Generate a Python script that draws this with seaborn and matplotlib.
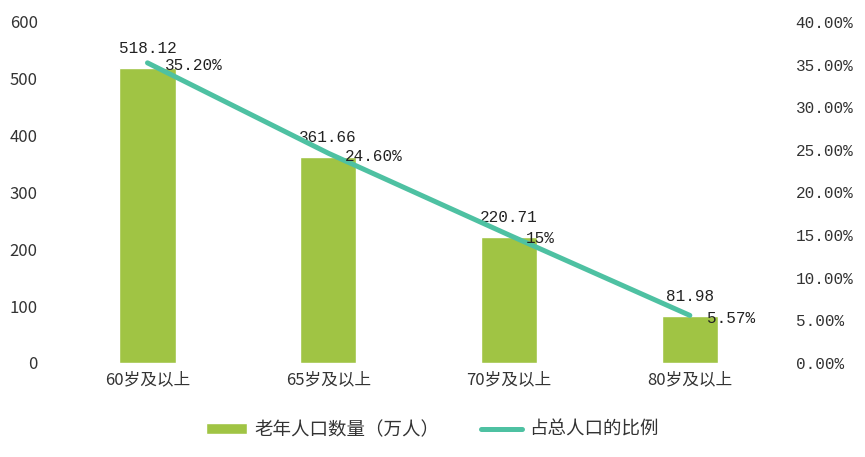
import matplotlib
matplotlib.use("Agg")
import matplotlib.pyplot as plt
import seaborn as sns
import numpy as np
import pandas as pd
from matplotlib.lines import Line2D
from matplotlib.patches import Patch

# data
categories = ["60岁及以上", "65岁及以上", "70岁及以上", "80岁及以上"]
population = [518.12, 361.66, 220.71, 81.98]          # 老年人口数量（万人）
share = [0.352, 0.246, 0.15, 0.0557]                    # 占总人口的比例
share_labels = ["35.20%", "24.60%", "15%", "5.57%"]

bar_color = "#A0C444"
line_color = "#4EC1A2"
num_font = ['Liberation Mono', 'DejaVu Sans Mono']

sns.set_theme(style="white")
plt.rcParams['font.family'] = ['Noto Sans CJK SC', 'DejaVu Sans']

df = pd.DataFrame({"cat": categories, "pop": population, "share": share,
                   "pos": np.arange(len(categories))})

fig = plt.figure(figsize=(8.65, 4.57), dpi=100)
ax = fig.add_axes([0.066, 0.206, 0.836, 0.746])

sns.barplot(data=df, x="cat", y="pop", color=bar_color, width=0.31,
            saturation=1, ax=ax)
ax.set_ylim(0, 600)
ax.set_yticks(range(0, 601, 100))
ax.set_xlim(-0.5, len(categories) - 0.5)
ax.set_xlabel("")
ax.set_ylabel("")
ax.tick_params(axis="both", labelsize=12, colors="#333333", length=0)
ax.tick_params(axis="y", pad=14)
ax.tick_params(axis="x", pad=6)
for s in ax.spines.values():
    s.set_visible(False)

for i, v in enumerate(population):
    ax.annotate(f"{v:.2f}", (i, v), xytext=(0, 12), textcoords="offset pixels",
                ha="center", va="bottom", fontsize=11.5, color="#222222",
                family=num_font)

ax2 = ax.twinx()
sns.lineplot(data=df, x="pos", y="share", color=line_color, linewidth=3.6,
             ax=ax2, legend=False, solid_capstyle="round")
ax2.set_ylim(0, 0.4)
ticks = np.arange(0, 0.401, 0.05)
ax2.set_yticks(ticks)
ax2.set_yticklabels([f"{t*100:.2f}%" for t in ticks], family=num_font)
ax2.set_ylabel("")
ax2.tick_params(axis="y", labelsize=11.5, colors="#333333", length=0, pad=11)
for s in ax2.spines.values():
    s.set_visible(False)

for i, (v, lab) in enumerate(zip(share, share_labels)):
    ax2.annotate(lab, (i, v), xytext=(17, -3), textcoords="offset pixels",
                 ha="left", va="center", fontsize=11.5, color="#222222",
                 family=num_font)

handles = [Patch(facecolor=bar_color, label="老年人口数量（万人）"),
           Line2D([0], [0], color=line_color, linewidth=3.6,
                  solid_capstyle="round", label="占总人口的比例")]
fig.legend(handles=handles, loc="center", bbox_to_anchor=(0.5, 0.059), ncol=2,
           frameon=False, fontsize=13.3, handlelength=2.2, handleheight=0.5,
           handletextpad=0.4, columnspacing=2.3, labelcolor="#333333")

fig.savefig("out.png", dpi=100)
